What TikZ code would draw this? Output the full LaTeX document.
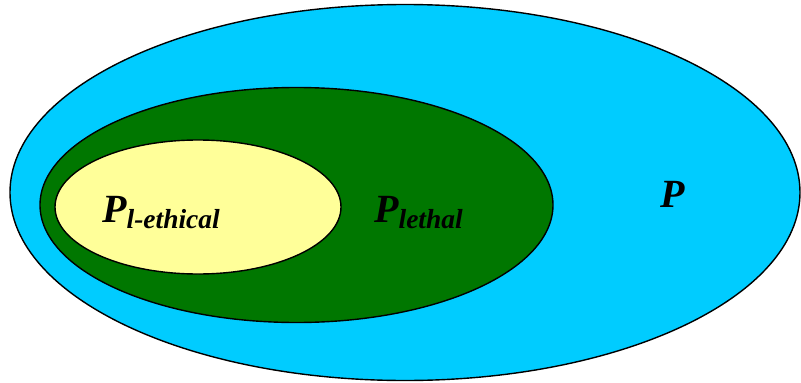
\documentclass[tikz,border=0pt]{standalone}
\usepackage{fontspec}
\setmainfont{Liberation Serif}
\usetikzlibrary{shapes.geometric}
\definecolor{skyfill}{HTML}{00CCFF}
\definecolor{darkgreenfill}{HTML}{007700}
\definecolor{paleyellow}{HTML}{FFFF99}
\tikzset{
  region/.style={ellipse, draw=black, line width=1.4pt, inner sep=0pt},
  setlabel/.style={inner sep=0pt, anchor=base west, font=\bfseries\itshape},
}
\newcommand{\bigP}[1]{{\fontsize{40}{44}\selectfont P}\raisebox{-6pt}{\fontsize{27.5}{30}\selectfont #1}}
\begin{document}
\begin{tikzpicture}[x=1pt,y=-1pt]
\useasboundingbox (0,0) rectangle (801,383);
\node[region, fill=skyfill, minimum width=790pt, minimum height=376pt] (outer) at (405,192.5) {};
\node[region, fill=darkgreenfill, minimum width=513pt, minimum height=235pt] (lethal) at (296.5,205) {};
\node[region, fill=paleyellow, minimum width=286pt, minimum height=134pt] (ethical) at (198,207) {};
\node[setlabel] (lab1) at (102,222) {\bigP{l-ethical}};
\node[setlabel] (lab2) at (374,222) {\bigP{lethal}};
\node[setlabel] (lab3) at (660,207) {\fontsize{40}{44}\selectfont P};
\end{tikzpicture}
\end{document}
